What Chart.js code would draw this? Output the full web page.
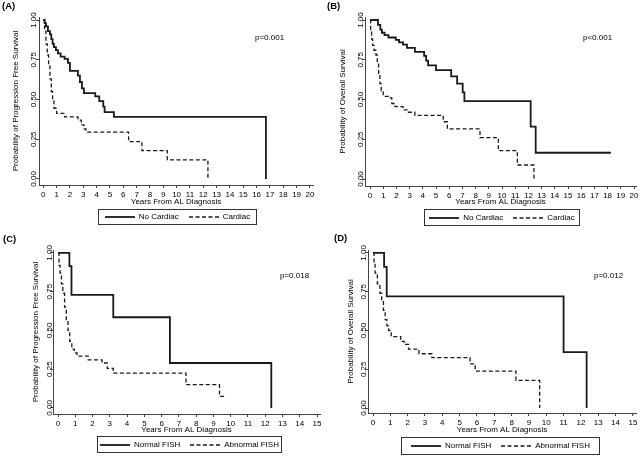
<!DOCTYPE html>
<html lang="en">
<head>
<meta charset="UTF-8">
<title>Survival by cardiac involvement and FISH</title>
<script src="https://cdn.jsdelivr.net/npm/chart.js"></script>
<style>
  body { margin: 0; background: #fff; font-family: "Liberation Sans", Arial, sans-serif; color: #000; }
  #figure { position: relative; width: 642px; height: 457px; overflow: hidden; }
  #figure canvas { position: absolute; }
  .tag { position: absolute; font-size: 9.5px; font-weight: bold; line-height: 1; }
  .pval { position: absolute; font-size: 8px; line-height: 1; }
  .legend {
    position: absolute; box-sizing: border-box; border: 1px solid #333;
    display: flex; align-items: center; justify-content: center;
    font-size: 8px; line-height: 1; white-space: nowrap;
  }
  .legend svg { display: block; margin-right: 4px; }
  .legend .gap { width: 10px; }
</style>
</head>
<body>
<div id="figure"></div>

<script>
// (A) progression free survival, cardiac vs no cardiac
const pfsNoCardiacYears = [0, 0.1, 0.2, 0.35, 0.5, 0.6, 0.7, 0.8, 0.95, 1.1, 1.3, 1.6, 1.85, 2.0, 2.6, 2.75, 2.9, 3.05, 3.9, 4.2, 4.5, 4.6, 5.3, 16.7];
const pfsNoCardiacProb  = [1.0, 0.98, 0.96, 0.93, 0.91, 0.88, 0.85, 0.83, 0.81, 0.79, 0.77, 0.755, 0.73, 0.68, 0.65, 0.61, 0.57, 0.54, 0.52, 0.49, 0.455, 0.42, 0.39, 0.0];
const pfsCardiacYears = [0, 0.1, 0.2, 0.3, 0.4, 0.5, 0.6, 0.7, 0.8, 1.0, 1.6, 2.6, 2.85, 3.05, 3.2, 6.4, 7.4, 9.3, 12.35];
const pfsCardiacProb  = [1.0, 0.93, 0.85, 0.78, 0.71, 0.63, 0.55, 0.49, 0.445, 0.413, 0.39, 0.37, 0.34, 0.315, 0.295, 0.235, 0.178, 0.12, 0.0];

// (B) overall survival, cardiac vs no cardiac
const osNoCardiacYears = [0, 0.6, 0.78, 0.9, 1.1, 1.4, 1.95, 2.2, 2.5, 2.8, 3.4, 4.1, 4.25, 4.4, 5.0, 6.15, 6.6, 7.02, 7.15, 12.17, 12.55, 18.25];
const osNoCardiacProb  = [1.0, 0.97, 0.94, 0.92, 0.905, 0.89, 0.875, 0.86, 0.845, 0.825, 0.80, 0.775, 0.745, 0.715, 0.685, 0.645, 0.60, 0.545, 0.49, 0.33, 0.165, 0.165];
const osCardiacYears = [0, 0.05, 0.12, 0.2, 0.3, 0.45, 0.55, 0.65, 0.75, 0.85, 1.0, 1.4, 1.65, 1.9, 2.5, 2.8, 3.4, 5.55, 5.86, 8.33, 9.72, 11.16, 12.42];
const osCardiacProb  = [1.0, 0.94, 0.88, 0.84, 0.81, 0.78, 0.73, 0.66, 0.60, 0.555, 0.52, 0.51, 0.475, 0.455, 0.435, 0.42, 0.40, 0.36, 0.315, 0.26, 0.178, 0.088, 0.0];

// (C) progression free survival by FISH
const pfsNormalFishYears = [0, 0.66, 0.78, 3.2, 6.48, 12.35];
const pfsNormalFishProb  = [1.0, 0.915, 0.73, 0.585, 0.29, 0.0];
const pfsAbnormalFishYears = [0, 0.06, 0.12, 0.2, 0.28, 0.38, 0.48, 0.58, 0.68, 0.8, 0.95, 1.1, 1.75, 2.55, 2.85, 3.2, 7.41, 9.35, 9.68];
const pfsAbnormalFishProb  = [1.0, 0.92, 0.87, 0.80, 0.74, 0.65, 0.57, 0.50, 0.43, 0.38, 0.355, 0.335, 0.31, 0.29, 0.255, 0.225, 0.15, 0.075, 0.075];

// (D) overall survival by FISH
const osNormalFishYears = [0, 0.64, 0.79, 11.0, 12.33];
const osNormalFishProb  = [1.0, 0.91, 0.72, 0.36, 0.0];
const osAbnormalFishYears = [0, 0.06, 0.12, 0.25, 0.4, 0.5, 0.6, 0.7, 0.8, 0.9, 1.05, 1.6, 1.8, 2.05, 2.65, 3.4, 5.6, 5.9, 8.25, 9.62];
const osAbnormalFishProb  = [1.0, 0.93, 0.87, 0.80, 0.74, 0.69, 0.63, 0.57, 0.53, 0.50, 0.46, 0.43, 0.41, 0.38, 0.35, 0.325, 0.285, 0.238, 0.178, 0.0];

const cardiacGroups = ['No Cardiac', 'Cardiac'];
const fishGroups = ['Normal FISH', 'Abnormal FISH'];
const pValues = ['p=0.001', 'p<0.001', 'p=0.018', 'p=0.012'];
const yTickValues = [0, 0.25, 0.5, 0.75, 1];
const xTicksLong = [0, 1, 2, 3, 4, 5, 6, 7, 8, 9, 10, 11, 12, 13, 14, 15, 16, 17, 18, 19, 20];
const xTicksShort = [0, 1, 2, 3, 4, 5, 6, 7, 8, 9, 10, 11, 12, 13, 14, 15];

const PFS = 'Probability of Progression Free Survival';
const OS = 'Probability of Overall Survival';

Chart.defaults.font.family = '"Liberation Sans", Arial, sans-serif';
Chart.defaults.font.size = 8;
Chart.defaults.color = '#000';

// layout of each panel, in canvas pixels
const panels = [
  { tag: '(A)', left: 0, top: 0, yTitle: PFS, groups: cardiacGroups, p: pValues[0],
    series: [[pfsNoCardiacYears, pfsNoCardiacProb], [pfsCardiacYears, pfsCardiacProb]],
    xTicks: xTicksLong, xMin: -0.32, xMax: 20.23, yMin: -0.038, yMax: 1.019,
    area: { left: 39, right: 313, top: 17, bottom: 185 }, yLabelX: 33.5, yTitleX: 15.5,
    tagPos: [2, 1], pPos: [255, 34], legend: [98, 209, 159, 16] },
  { tag: '(B)', left: 321, top: 0, yTitle: OS, groups: cardiacGroups, p: pValues[1],
    series: [[osNoCardiacYears, osNoCardiacProb], [osCardiacYears, osCardiacProb]],
    xTicks: xTicksLong, xMin: -0.38, xMax: 20.15, yMin: -0.044, yMax: 1.019,
    area: { left: 44, right: 315, top: 17, bottom: 186 }, yLabelX: 39, yTitleX: 21.5,
    tagPos: [327, 1], pPos: [583, 34], legend: [424, 209, 156, 17] },
  { tag: '(C)', left: 0, top: 228, yTitle: PFS, groups: fishGroups, p: pValues[2],
    series: [[pfsNormalFishYears, pfsNormalFishProb], [pfsAbnormalFishYears, pfsAbnormalFishProb]],
    xTicks: xTicksShort, xMin: -0.29, xMax: 15.17, yMin: -0.039, yMax: 1.019,
    area: { left: 53, right: 320, top: 22, bottom: 186 }, yLabelX: 48.7, yTitleX: 35.5,
    tagPos: [3, 234], pPos: [280, 271.5], legend: [97, 436, 185, 17] },
  { tag: '(D)', left: 321, top: 228, yTitle: OS, groups: fishGroups, p: pValues[3],
    series: [[osNormalFishYears, osNormalFishProb], [osAbnormalFishYears, osAbnormalFishProb]],
    xTicks: xTicksShort, xMin: -0.29, xMax: 15.18, yMin: -0.032, yMax: 1.019,
    area: { left: 47, right: 315, top: 22, bottom: 185 }, yLabelX: 41.7, yTitleX: 29.5,
    tagPos: [334, 233], pPos: [594, 271.5], legend: [401, 437, 199, 18] }
];

// y tick labels are rotated in the original (Stata style)
const rotatedYLabels = {
  id: 'rotatedYLabels',
  afterDraw(chart, args, opts) {
    const s = chart.scales.y;
    const ctx = chart.ctx;
    ctx.save();
    ctx.fillStyle = '#000';
    ctx.font = '8px "Liberation Sans", Arial, sans-serif';
    ctx.textAlign = 'center';
    ctx.textBaseline = 'alphabetic';
    s.ticks.forEach(t => {
      ctx.save();
      ctx.translate(opts.x + 2.9, s.getPixelForValue(t.value));
      ctx.rotate(-Math.PI / 2);
      ctx.fillText(t.value.toFixed(2), 0, 0);
      ctx.restore();
    });
    ctx.restore();
  }
};

const fig = document.getElementById('figure');

function legendKey(dashed) {
  return '<svg width="30" height="4"><line x1="0" y1="2" x2="30" y2="2" stroke="#1a1a1a" stroke-width="' +
    (dashed ? 1.3 : 1.8) + '"' + (dashed ? ' stroke-dasharray="4 2.5"' : '') + '/></svg>';
}

panels.forEach(p => {
  const W = 321, H = 228;
  const cv = document.createElement('canvas');
  cv.width = W; cv.height = H;
  cv.style.left = p.left + 'px';
  cv.style.top = p.top + 'px';
  fig.appendChild(cv);

  new Chart(cv, {
    type: 'line',
    data: {
      datasets: p.series.map((s, k) => ({
        label: p.groups[k],
        data: s[0].map((t, i) => ({ x: t, y: s[1][i] })),
        stepped: 'before',
        borderColor: '#1a1a1a',
        borderWidth: k ? 1.3 : 1.8,
        borderDash: k ? [4, 2.5] : [],
        pointRadius: 0,
        fill: false
      }))
    },
    options: {
      responsive: false,
      animation: false,
      devicePixelRatio: 1,
      layout: { padding: { left: 0, top: p.area.top, right: W - p.area.right, bottom: 0 } },
      plugins: {
        legend: { display: false },
        tooltip: { enabled: false },
        rotatedYLabels: { x: p.yLabelX }
      },
      scales: {
        x: {
          type: 'linear', min: p.xMin, max: p.xMax,
          afterBuildTicks: s => { s.ticks = p.xTicks.map(v => ({ value: v })); },
          afterFit: s => { s.height = H - p.area.bottom; s.paddingLeft = 0; s.paddingRight = 0; },
          ticks: { autoSkip: false, maxRotation: 0, minRotation: 0, padding: 1.5, color: '#000', callback: v => String(v) },
          grid: { drawOnChartArea: false, drawTicks: true, tickLength: 3, tickColor: '#444' },
          border: { color: '#444', width: 1 },
          title: { display: true, text: 'Years From AL Diagnosis', color: '#000', padding: { top: 0, bottom: 21.2 } }
        },
        y: {
          type: 'linear', min: p.yMin, max: p.yMax,
          afterBuildTicks: s => { s.ticks = yTickValues.map(v => ({ value: v })); },
          afterFit: s => { s.width = p.area.left; s.paddingTop = 0; s.paddingBottom = 0; },
          ticks: { display: false },
          grid: { drawOnChartArea: false, drawTicks: true, tickLength: 3, tickColor: '#444' },
          border: { color: '#444', width: 1 },
          title: { display: true, text: p.yTitle, color: '#000', padding: { top: p.yTitleX - 4.8, bottom: 0 } }
        }
      }
    },
    plugins: [rotatedYLabels]
  });

  const tag = document.createElement('div');
  tag.className = 'tag';
  tag.textContent = p.tag;
  tag.style.left = p.tagPos[0] + 'px';
  tag.style.top = p.tagPos[1] + 'px';
  fig.appendChild(tag);

  const pv = document.createElement('div');
  pv.className = 'pval';
  pv.textContent = p.p;
  pv.style.left = p.pPos[0] + 'px';
  pv.style.top = p.pPos[1] + 'px';
  fig.appendChild(pv);

  const lg = document.createElement('div');
  lg.className = 'legend';
  lg.style.left = p.legend[0] + 'px';
  lg.style.top = p.legend[1] + 'px';
  lg.style.width = p.legend[2] + 'px';
  lg.style.height = p.legend[3] + 'px';
  lg.innerHTML = legendKey(false) + '<span>' + p.groups[0] + '</span><span class="gap"></span>' +
    legendKey(true) + '<span>' + p.groups[1] + '</span>';
  fig.appendChild(lg);
});
</script>
</body>
</html>
